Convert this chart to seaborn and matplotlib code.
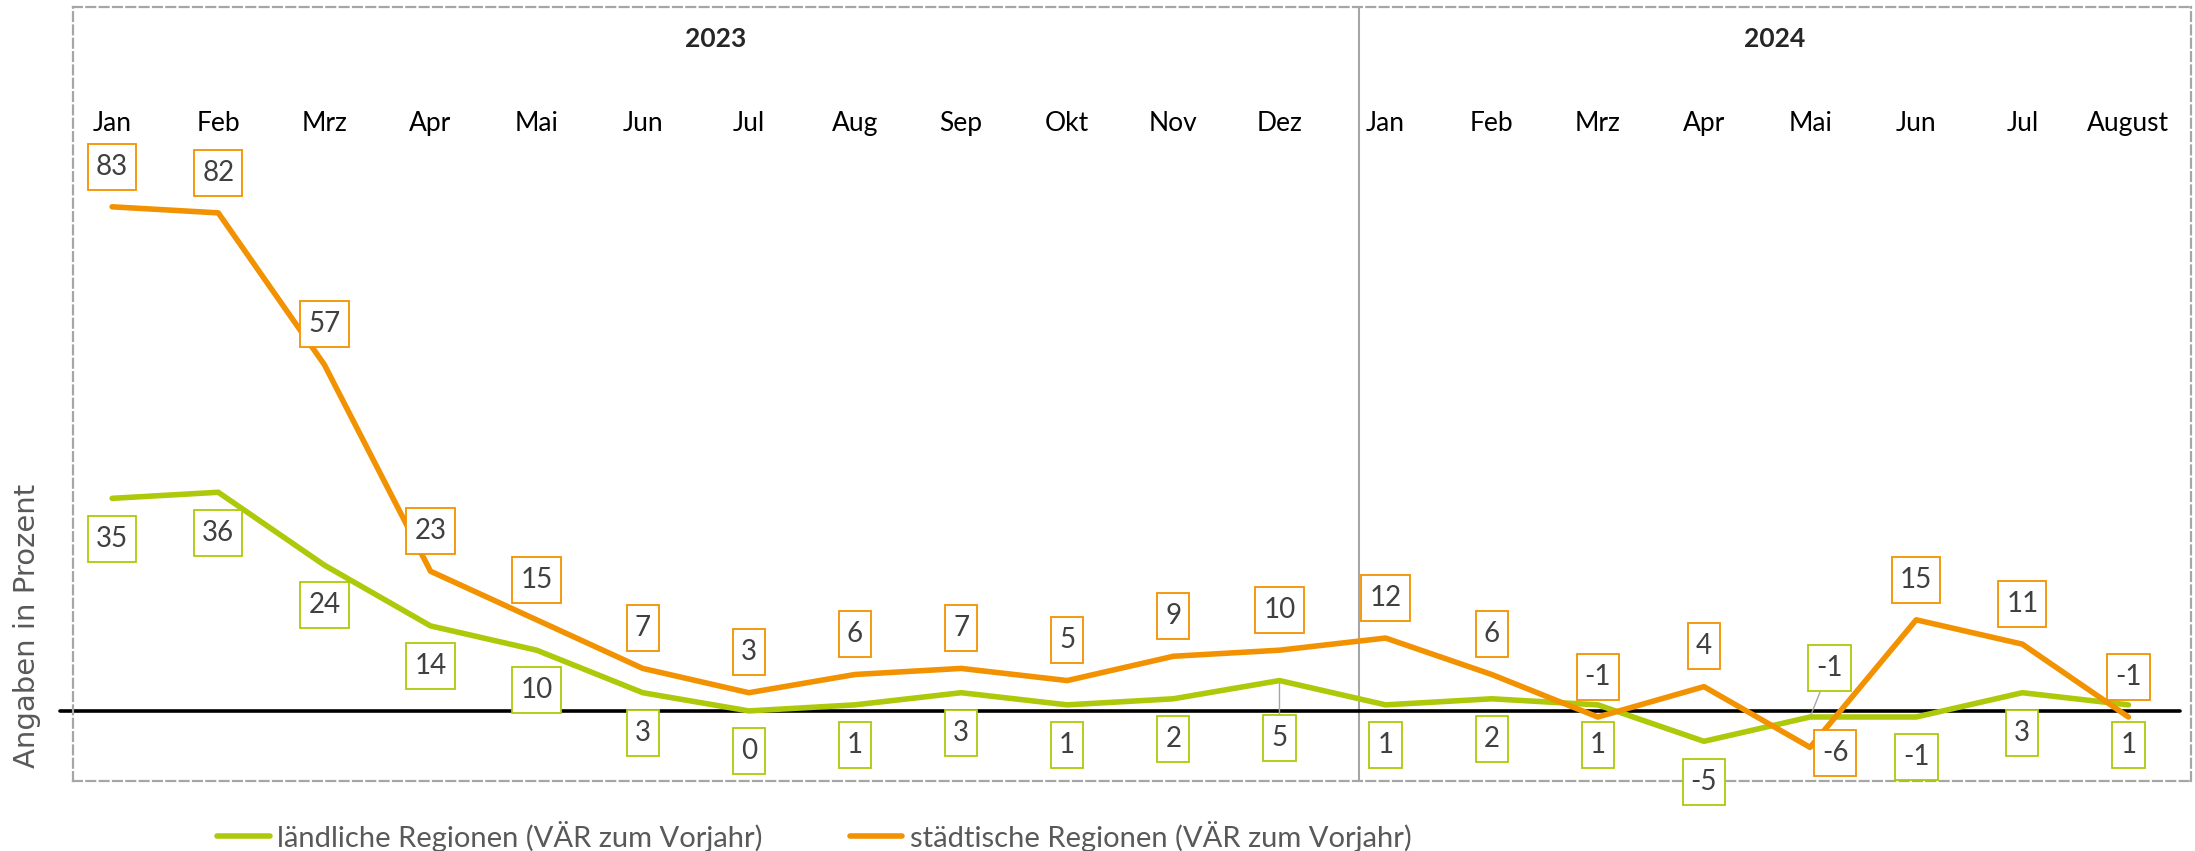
import numpy as np
import pandas as pd
import matplotlib
matplotlib.use("Agg")
import matplotlib.pyplot as plt
from matplotlib.path import Path
import seaborn as sns

# ---- data ----
monate = ["Jan", "Feb", "Mrz", "Apr", "Mai", "Jun", "Jul", "Aug", "Sep", "Okt", "Nov", "Dez",
          "Jan", "Feb", "Mrz", "Apr", "Mai", "Jun", "Jul", "August"]
jahre = ["2023", "2024"]
laendlich = [35, 36, 24, 14, 10, 3, 0, 1, 3, 1, 2, 5, 1, 2, 1, -5, -1, -1, 3, 1]
staedtisch = [83, 82, 57, 23, 15, 7, 3, 6, 7, 5, 9, 10, 12, 6, -1, 4, -6, 15, 11, -1]
serien = ["ländliche Regionen (VÄR zum Vorjahr)", "städtische Regionen (VÄR zum Vorjahr)"]

gruen = "#AEC90A"
orange = "#F39200"
grau = "#A6A6A6"

sns.set_theme(style="white")
plt.rcParams["font.family"] = ["Lato", "DejaVu Sans"]

df = pd.DataFrame({
    "x": list(range(len(monate))) * 2,
    "wert": laendlich + staedtisch,
    "serie": [serien[0]] * len(monate) + [serien[1]] * len(monate),
})

fig = plt.figure(figsize=(21.95, 8.51), dpi=100)
ax = fig.add_axes([0.0333, 0.0823, 0.9649, 0.9095])

sns.lineplot(data=df, x="x", y="wert", hue="serie", palette=[gruen, orange],
             linewidth=4, ax=ax, solid_capstyle="round")

ax.set_xlim(-0.368, 19.59)
ax.set_ylim(-11.53, 115.9)
ax.set_xticks([])
ax.set_yticks([])
ax.set_xlabel("")
ax.set_ylabel("")
for sp in ax.spines.values():
    sp.set_visible(True)
    sp.set_color(grau)
    sp.set_linestyle((0, (4, 2)))
    sp.set_linewidth(1.6)

# zero line
ax.axhline(0, xmin=-0.006, xmax=0.995, color="black", lw=2.6, clip_on=False, zorder=1)

# divider between years
trenn = 11.75
ax.axvline(trenn, color=grau, lw=1.5, zorder=0)

# month labels and year labels
for i, m in enumerate(monate):
    ax.text(i, 0.850, m, transform=ax.get_xaxis_transform(), ha="center", va="center",
            fontsize=19, color="black")
x0, x1 = ax.get_xlim()
ax.text((x0 + trenn) / 2, 0.9587, jahre[0], transform=ax.get_xaxis_transform(),
        ha="center", va="center", fontsize=19, fontweight="bold")
ax.text((trenn + x1) / 2, 0.9587, jahre[1], transform=ax.get_xaxis_transform(),
        ha="center", va="center", fontsize=19, fontweight="bold")


# box around data labels: narrow sideways, taller vertically
def kasten(x0, y0, width, height, mutation_size):
    px = 0.29 * mutation_size
    py = 0.36 * mutation_size
    a, b = x0 - px, y0 - py
    c, d = x0 + width + px, y0 + height + py
    return Path([(a, b), (c, b), (c, d), (a, d), (a, b)], closed=True)


def label(i, v, farbe, dx, dy, leader=False):
    kw = {}
    if leader:
        kw["arrowprops"] = dict(arrowstyle="-", color=grau, lw=1, shrinkA=0, shrinkB=2)
    ax.annotate(str(v), (i, v), xytext=(dx, dy), textcoords="offset points",
                ha="center", va="center", fontsize=20, color="#404040",
                bbox=dict(boxstyle=kasten, fc="white", ec=farbe, lw=1.3),
                zorder=5, **kw)


for i, v in enumerate(laendlich):
    if i == 11:
        label(i, v, gruen, 0, -41, leader=True)
    elif i == 16:
        label(i, v, gruen, 14, 35, leader=True)
    else:
        label(i, v, gruen, 0, -29)

for i, v in enumerate(staedtisch):
    if i == 16:
        label(i, v, orange, 18, -4)
    else:
        label(i, v, orange, 0, 29)

# y label
fig.text(0.0125, 0.265, "Angaben in Prozent", rotation=90, ha="center", va="center",
         fontsize=21, color="#595959", family="DejaVu Sans")

# legend
handles, labels = ax.get_legend_handles_labels()
ax.get_legend().remove()
leg = fig.legend(handles, labels, loc="center", bbox_to_anchor=(0.371, 0.0176), ncol=2,
                 frameon=False, fontsize=21, handlelength=1.8, handletextpad=0.25,
                 columnspacing=3.0)
for t in leg.get_texts():
    t.set_color("#595959")

fig.savefig("out.png", dpi=100)
